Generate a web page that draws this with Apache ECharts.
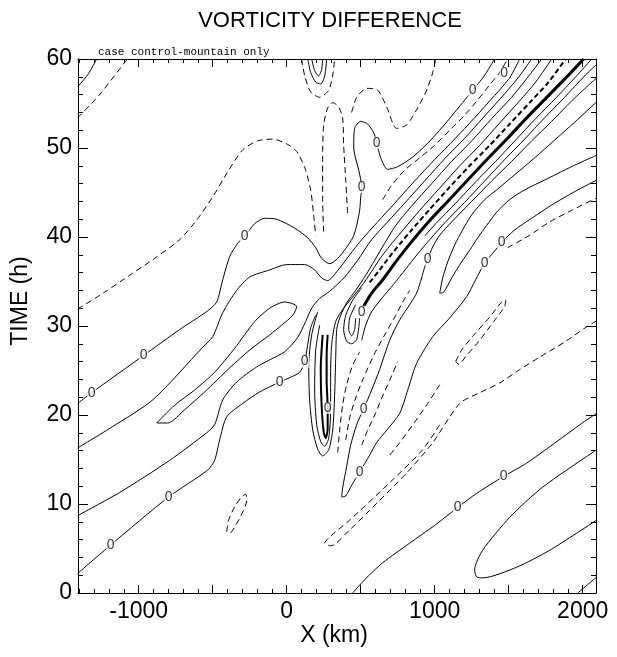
<!DOCTYPE html>
<html><head><meta charset="utf-8">
<script src="https://cdn.jsdelivr.net/npm/echarts@6/dist/echarts.min.js"></script>
<style>html,body{margin:0;padding:0;background:#fff}#c{width:617px;height:657px}</style>
</head><body><div id="c"></div>
<script>
// ---- axis ticks / labels ----
const xLabelTicks = [-1000, 0, 1000, 2000];
const xMajorTicks = [-1000, -500, 0, 500, 1000, 1500, 2000];
const xMinorTicks = [-1400,-1300,-1200,-1100,-1000,-900,-800,-700,-600,-500,-400,-300,-200,-100,0,100,200,300,400,500,600,700,800,900,1000,1100,1200,1300,1400,1500,1600,1700,1800,1900,2000];
const yLabelTicks = [0, 10, 20, 30, 40, 50, 60];

// ---- contour lines: [x (km), time (h)] ----
const S_TL = [[-1412,56.9],[-1345,58.2],[-1284,60]];
const D_TL = [[-1412,53.4],[-1264,56.0],[-1095,59.6],[-1075,60]];
const L1 = [[-1412,21.3],[-1318,22.5],[-966,26.7],[-723,29.6],[-534,31.7],[-473,32.7],[-432,35.2],[-385,37.8],[-331,39.3],[-284,40.1],[-216,41.5],[-149,42.1],[-68,42.0],[54,41.0],[142,39.9],[196,38.8],[236,37.6],[291,37.0],[345,37.6],[399,38.7],[446,39.9],[473,41.3],[493,43.0],[500,44.4],[507,45.6],[487,47.5],[453,50.0],[459,52.2],[500,53.0],[547,52.7],[588,51.7],[608,50.6],[635,48.9],[682,47.6],[750,47.9],[845,48.9],[939,50.3],[1034,52.0],[1115,53.6],[1189,55.1],[1257,56.5],[1331,58.0],[1405,60]];
const L2 = [[-1412,16.3],[-1176,18.7],[-905,21.7],[-568,27.6],[-500,28.8],[-432,31.5],[-338,34.0],[-250,35.5],[-115,36.3],[0,36.9],[122,36.9],[189,36.3],[236,35.4],[277,35.1],[338,36.1],[426,38.0],[507,39.7],[615,41.7],[730,43.8],[865,46.3],[1000,48.7],[1135,51.0],[1270,53.4],[1405,55.9],[1507,57.9],[1574,60]];
const O1 = [[-878,19.1],[-757,21.1],[-622,22.8],[-487,24.8],[-351,27.5],[-216,30.5],[-115,32.0],[-14,32.7],[68,32.2],[41,31.2],[-34,30.1],[-115,29.0],[-250,27.3],[-385,25.3],[-554,22.6],[-689,20.6],[-804,19.1],[-878,19.1]];
const L4 = [[-1412,8.7],[-1128,11.3],[-791,14.9],[-541,18.0],[-487,18.9],[-432,21.7],[-338,23.7],[-203,25.4],[-115,26.2],[-14,27.1],[74,28.7],[128,30.5],[169,32.0],[223,33.1],[291,33.9],[392,35.5],[480,37.4],[574,39.7],[682,41.7],[797,43.8],[932,46.3],[1068,48.8],[1203,51.1],[1338,53.6],[1473,56.1],[1574,58.1],[1655,60]];
const L5 = [[-1412,2.2],[-1189,5.4],[-797,10.8],[-534,13.8],[-487,14.9],[-453,17.2],[-405,19.8],[-297,21.3],[-182,22.6],[-47,23.7],[34,24.3],[88,24.8],[122,26.0],[142,27.9],[162,29.8],[196,31.2]];
const U1 = [[209,31.6],[169,29.0],[149,25.6],[155,21.7],[176,18.3],[209,16.2],[243,15.4],[284,16.1],[311,18.3],[324,22.2],[331,26.2],[338,29.6],[358,30.9],[405,32.6],[466,34.0],[534,35.7],[595,37.4],[662,39.3],[737,41.3],[845,43.5],[980,46.0],[1115,48.5],[1250,50.8],[1385,53.3],[1520,55.7],[1622,57.8],[1723,60]];
const U2 = [[223,30.1],[196,27.3],[189,22.8],[203,18.9],[230,17.0],[257,16.5],[284,17.4],[297,20.6],[297,24.5],[304,27.9],[331,30.5],[385,32.0],[453,33.4],[520,34.8],[588,36.5],[649,38.0],[716,39.4],[797,41.0],[899,43.0],[1034,45.5],[1169,48.0],[1304,50.3],[1439,52.8],[1574,55.3],[1682,57.4],[1791,60]];
const U3 = [[243,29.0],[230,25.1],[236,21.1],[250,18.1],[264,17.4],[277,18.5],[277,20.8],[270,23.9],[270,26.7],[277,29.0]];
const H1 = [[507,34.3],[446,32.9],[399,31.2],[385,29.6],[405,28.3],[439,28.0],[473,28.5],[487,29.8],[493,30.9]];
const H2 = [[466,32.4],[426,30.9],[419,29.6],[439,28.9],[459,29.6],[466,30.9]];
const C = [[520,32.2],[574,33.7],[649,35.2],[737,37.2],[831,39.2],[953,41.6],[1088,44.0],[1223,46.4],[1358,48.8],[1493,51.1],[1628,53.5],[1764,55.8],[1899,58.1],[2007,60]];
const DC = [[561,34.9],[628,36.3],[696,37.8],[764,39.2],[845,40.8],[966,43.1],[1101,45.6],[1236,48.0],[1372,50.3],[1507,52.7],[1642,55.1],[1764,57.3],[1885,60]];
const R0 = [[932,40.1],[1007,41.5],[1142,43.8],[1277,46.2],[1412,48.5],[1547,50.9],[1682,53.3],[1818,55.6],[1953,58.0],[2061,60]];
const R1 = [[507,28.4],[534,30.1],[574,31.6],[642,33.1],[723,34.7],[804,36.4],[885,38.1],[966,39.7],[1074,41.7],[1203,43.9],[1338,46.3],[1473,48.7],[1608,51.0],[1743,53.4],[1878,55.7],[2013,58.1],[2095,59.4]];
const ZH1 = [[2095,57.9],[1926,55.3],[1791,53.0],[1655,50.8],[1520,48.5],[1385,46.3],[1250,44.0],[1115,41.7],[1034,40.2],[987,38.9],[953,37.5],[932,36.6],[912,35.4],[878,33.7],[831,32.4],[764,30.7],[696,28.4],[628,25.1],[574,22.8],[520,20.7],[473,18.9],[432,16.6],[405,14.2],[378,11.8],[372,10.8],[399,10.9],[439,12.1],[493,13.6],[561,15.5],[608,16.9],[676,18.3],[764,20.2],[818,22.8],[878,25.8],[987,28.8],[1101,30.9],[1216,33.3],[1277,35.2],[1338,37.1],[1399,38.3],[1453,39.4],[1541,40.8],[1655,42.1],[1791,43.6],[1946,45.1],[2095,46.4]];
const HP = [[2095,55.2],[1946,52.9],[1811,50.9],[1676,48.9],[1541,47.0],[1419,45.3],[1338,44.2],[1250,42.5],[1189,40.8],[1135,39.1],[1088,37.2],[1054,35.4],[1034,33.7],[1061,33.8],[1115,35.4],[1182,37.2],[1236,38.5],[1291,39.9],[1351,41.3],[1419,42.8],[1507,44.2],[1608,45.3],[1743,46.4],[1912,47.8],[2095,49.2]];
const DZ1 = [[1493,38.8],[1642,40.2],[1777,41.7],[1926,43.0],[2095,44.4]];
const DL = [[1142,26.0],[1182,27.3],[1270,29.1],[1372,31.0],[1453,32.7],[1480,32.9],[1473,32.2],[1399,30.5],[1304,28.4],[1216,26.7],[1162,25.7],[1142,26.0]];
const DL2 = [[1034,18.9],[919,16.1],[696,12.4],[426,8.2],[291,6.3],[257,5.6],[297,5.3],[426,7.1],[561,9.3],[811,13.5],[987,16.9],[1169,21.3],[1304,22.5],[1439,23.6],[1574,25.1],[1709,26.5],[1878,28.2],[2027,29.9],[2095,30.6]];
const DL3 = [[1034,23.4],[953,21.3],[865,19.2],[764,16.9],[682,15.2]];
const DV1 = [[345,15.8],[358,18.3],[378,21.1],[405,23.4],[446,25.6],[493,27.1]];
const DV2 = [[399,17.2],[426,19.7],[466,21.9],[520,24.2],[588,26.7],[662,29.0],[737,31.2],[791,32.9],[831,34.0]];
const DV3 = [[507,16.6],[547,18.3],[595,20.0],[642,21.9],[696,23.9],[750,26.0]];
const D1 = [[-1412,31.9],[-1230,33.8],[-1061,35.7],[-892,37.6],[-723,39.7],[-608,41.9],[-500,44.5],[-399,47.3],[-297,49.8],[-196,50.8],[-95,51.0],[7,50.4],[68,49.6],[122,47.8],[162,45.3],[182,42.5],[196,40.2]];
const D2 = [[250,40.6],[243,44.2],[243,48.7],[250,52.6],[277,54.5],[311,55.1],[351,54.6],[378,53.4],[385,50.3],[399,46.4],[412,42.5]];
const D3 = [[439,54.0],[473,55.7],[541,56.7],[615,56.5],[676,54.6],[743,52.2],[811,52.6],[878,54.3],[946,56.5],[987,58.5],[1007,60]];
const DU1 = [[649,44.2],[709,45.8],[797,47.5],[899,48.9],[1000,50.3],[1101,52.0],[1203,53.7],[1291,55.4],[1372,57.1],[1439,58.5],[1493,60]];
const T1 = [[142,60],[162,58.5],[196,57.4],[230,57.2],[257,58.1],[270,60]];
const T2 = [[169,60],[189,58.7],[216,58.1],[236,58.8],[243,60]];
const T3 = [[101,60],[122,58.1],[162,56.3],[223,55.7],[284,56.5],[311,58.2],[324,60]];
const E1 = [[-405,6.9],[-392,8.2],[-351,9.7],[-304,10.8],[-277,11.1],[-270,10.4],[-297,9.1],[-345,7.6],[-385,6.7],[-405,6.9]];
const ZL0 = [[446,0],[527,1.5],[649,3.4],[831,5.6],[1000,7.6],[1155,9.6],[1284,11.2],[1466,13.1],[1622,14.6],[1865,17.5],[1980,18.9],[2095,20.2]];
const O2 = [[2095,16.1],[1730,11.9],[1507,8.5],[1324,4.8],[1270,2.6],[1284,1.8],[1324,1.7],[1554,2.9],[1777,4.8],[2095,8.2]];
const CR = [[1966,0],[2095,1.8]];

// positions of the "0" contour labels
const zeroLabels = [[-1318,22.5],[-966,26.7],[-284,40.1],[507,45.6],[608,50.6],[1257,56.5],[1470,58.4],[-1189,5.4],[-797,10.8],[-47,23.7],[122,26.0],[277,20.8],[507,31.6],[953,37.5],[520,20.7],[493,13.6],[1338,37.1],[1453,39.4],[1155,9.6],[1466,13.1]];

const solidLines = [S_TL, L1, L2, O1, L4, L5, U1, U2, H1, H2, R0, R1, ZH1, HP, ZL0, O2, CR, T1, T2];
const dashedLines = [D_TL, D1, D2, D3, DU1, DZ1, DL, DL2, DL3, DV1, DV2, DV3, E1, T3];

const FONT = 'Liberation Sans';
const plainNum = v => String(v);
const series = [];
function addLine(data, type, width) {
  series.push({type: 'line', data: data, xAxisIndex: 0, yAxisIndex: 0, showSymbol: false, symbol: 'none',
    smooth: 0.25, clip: true, silent: true,
    lineStyle: {color: '#000', width: width, type: type}, z: 3});
}
solidLines.forEach(d => addLine(d, 'solid', 1));
dashedLines.forEach(d => addLine(d, [6, 4], 1));
addLine(U3, 'solid', 2);
addLine(DC, [5, 3], 2);
addLine(C, 'solid', 3);
series.push({type: 'scatter', data: zeroLabels, xAxisIndex: 0, yAxisIndex: 0, symbol: 'rect', symbolSize: [9, 12],
  itemStyle: {color: '#fff'}, z: 6, silent: true,
  label: {show: true, position: 'inside', formatter: '0', color: '#000', fontSize: 14, fontFamily: FONT}});

const xBase = {type: 'value', min: -1410, max: 2090, gridIndex: 0, splitLine: {show: false}, minorSplitLine: {show: false}};
const yBase = {type: 'value', min: 0, max: 60, interval: 10, gridIndex: 0, splitLine: {show: false}};
const axLine = {show: true, onZero: false, lineStyle: {color: '#000', width: 1}};

const option = {
  animation: false,
  backgroundColor: '#fff',
  grid: {left: 78, right: 21, top: 59, bottom: 64, containLabel: false},
  xAxis: [
    Object.assign({}, xBase, {position: 'bottom', axisLine: axLine,
      axisTick: {show: true, inside: true, length: 8, customValues: xMajorTicks, lineStyle: {color: '#000'}},
      axisLabel: {show: true, customValues: xLabelTicks, formatter: plainNum, fontSize: 23, color: '#000', margin: 7, fontFamily: FONT}}),
    Object.assign({}, xBase, {position: 'bottom', axisLine: {show: false, onZero: false},
      axisTick: {show: true, inside: true, length: 4, customValues: xMinorTicks, lineStyle: {color: '#000'}},
      axisLabel: {show: false}}),
    Object.assign({}, xBase, {position: 'top', axisLine: axLine,
      axisTick: {show: true, inside: true, length: 8, customValues: xMajorTicks, lineStyle: {color: '#000'}},
      axisLabel: {show: false}}),
    Object.assign({}, xBase, {position: 'top', axisLine: {show: false, onZero: false},
      axisTick: {show: true, inside: true, length: 4, customValues: xMinorTicks, lineStyle: {color: '#000'}},
      axisLabel: {show: false}})
  ],
  yAxis: [
    Object.assign({}, yBase, {position: 'left', axisLine: axLine,
      axisTick: {show: true, inside: true, length: 10, lineStyle: {color: '#000'}},
      minorTick: {show: true, splitNumber: 5, length: 5, lineStyle: {color: '#000'}},
      axisLabel: {show: true, customValues: yLabelTicks, formatter: plainNum, fontSize: 23, color: '#000', margin: 6, fontFamily: FONT}}),
    Object.assign({}, yBase, {position: 'right', axisLine: axLine,
      axisTick: {show: true, inside: true, length: 10, lineStyle: {color: '#000'}},
      minorTick: {show: true, splitNumber: 5, length: 5, lineStyle: {color: '#000'}},
      axisLabel: {show: false}})
  ],
  graphic: [
    {type: 'text', x: 330, y: 21, z: 10, style: {text: 'VORTICITY DIFFERENCE', font: '22px "Liberation Sans"', fill: '#000', align: 'center', verticalAlign: 'middle', textAlign: 'center', textVerticalAlign: 'middle'}},
    {type: 'text', x: 334, y: 636, z: 10, style: {text: 'X (km)', font: '23px "Liberation Sans"', fill: '#000', align: 'center', verticalAlign: 'middle', textAlign: 'center', textVerticalAlign: 'middle'}},
    {type: 'text', x: 21, y: 301, rotation: Math.PI / 2, z: 10, style: {text: 'TIME (h)', font: '23px "Liberation Sans"', fill: '#000', align: 'center', verticalAlign: 'middle', textAlign: 'center', textVerticalAlign: 'middle'}},
    {type: 'text', x: 98, y: 52, z: 10, style: {text: 'case control-mountain only', font: '11px "Liberation Mono"', fill: '#000', align: 'left', verticalAlign: 'middle', textAlign: 'left', textVerticalAlign: 'middle'}}
  ],
  series: series
};
const chart = echarts.init(document.getElementById('c'), null, {renderer: 'canvas', width: 617, height: 657});
chart.setOption(option);
</script>
</body></html>
